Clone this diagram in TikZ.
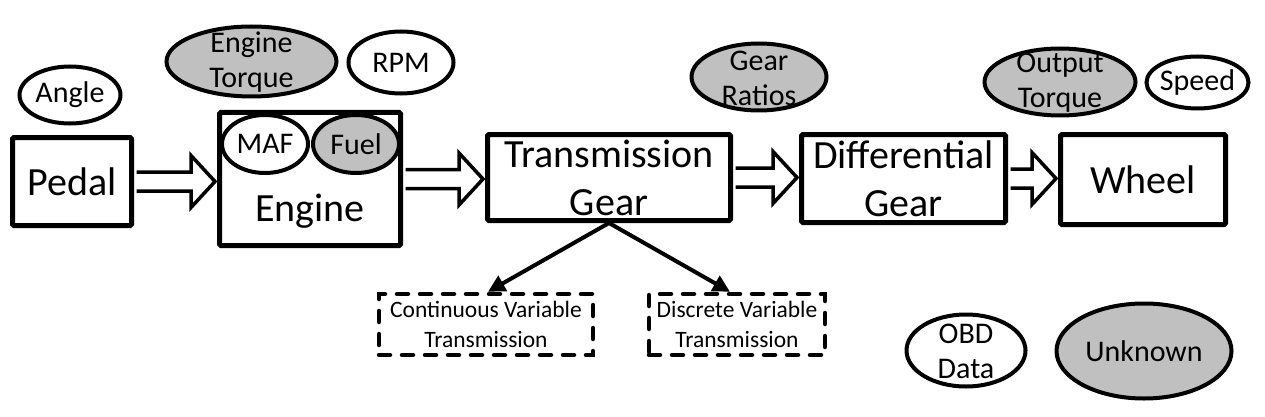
\documentclass[tikz,border=0pt]{standalone}
\usepackage{fontspec}
\setmainfont{Carlito}
\usetikzlibrary{shapes.geometric,arrows.meta,calc}
\definecolor{gfill}{RGB}{192,192,192}
\newcommand{\blockarrow}[2]{%
  \path[harr] let \p1=(#1.east), \p2=(#2.west) in
    (\x1+2.5pt,\y1+9.5pt) -- (\x2-26pt,\y1+9.5pt) -- (\x2-26pt,\y1+26pt) -- (\x2-2pt,\y1)
    -- (\x2-26pt,\y1-26pt) -- (\x2-26pt,\y1-9.5pt) -- (\x1+2.5pt,\y1-9.5pt);
}
\begin{document}
\begin{tikzpicture}[x=1pt,y=-1pt,
  blk/.style={draw,line width=5pt,rounded corners=1.5pt,inner sep=0pt,
    font=\fontsize{40}{48}\selectfont,align=center},
  oval/.style={draw,ellipse,line width=4pt,inner sep=0pt},
  gray/.style={fill=gfill},
  otext/.style={font=\fontsize{30}{35}\selectfont,align=center},
  otextb/.style={otext,yshift=-1pt},
  dbox/.style={draw,line width=4.5pt,dash pattern=on 11pt off 12pt,line cap=round,
    inner sep=0pt,font=\fontsize{23.5}{29.5}\selectfont,align=center},
  harr/.style={draw,line width=3.5pt,fill=white,line join=miter},
  tarr/.style={line width=4pt,-{Triangle[length=17pt,width=17pt]}}
]
\useasboundingbox (0,0) rectangle (1265,417);

% main blocks
\node[blk,minimum width=119pt,minimum height=88pt] (pedal) at (72,181.5) {Pedal};
\node[blk,minimum width=181pt,minimum height=133pt] (engine) at (310,179) {};
\node[font=\fontsize{40}{48}\selectfont,anchor=base,inner sep=0pt] (englbl) at (310,221) {Engine};
\node[blk,minimum width=243pt,minimum height=86pt] (trans) at (609,177.5) {Transmission\\Gear};
\node[blk,minimum width=204pt,minimum height=88pt] (diff) at (903.5,178.5) {Differential\\Gear};
\node[blk,minimum width=165pt,minimum height=90pt] (wheel) at (1143,179.5) {Wheel};

% ellipses inside engine
\node[oval,minimum width=86pt,minimum height=58pt,label={[otext,name=maflbl]center:MAF}] (maf) at (265,144) {};
\node[oval,gray,minimum width=86pt,minimum height=58pt,label={[otext,name=fuellbl]center:Fuel}] (fuel) at (356,144) {};

% attribute ellipses
\node[oval,minimum width=101pt,minimum height=57pt,label={[otext,name=anglelbl]center:Angle}] (angle) at (70,95) {};
\node[oval,gray,minimum width=170pt,minimum height=70pt,label={[otextb,name=etlbl]center:Engine\\Torque}] (etorque) at (251.5,61.5) {};
\node[oval,minimum width=105pt,minimum height=62pt,label={[otext,name=rpmlbl]center:RPM}] (rpm) at (401,62.5) {};
\node[oval,gray,minimum width=135pt,minimum height=67pt,label={[otextb,name=grlbl]center:Gear\\Ratios}] (ratios) at (759,77) {};
\node[oval,gray,minimum width=151pt,minimum height=67pt,label={[otextb,name=otlbl]center:Output\\Torque}] (otorque) at (1060,82) {};
\node[oval,minimum width=102pt,minimum height=52pt,label={[otext,name=speedlbl]center:Speed}] (speed) at (1197.5,82.5) {};
\node[oval,minimum width=119pt,minimum height=72pt,label={[otextb,name=obdlbl]center:OBD\\Data}] (obd) at (966,350.5) {};
\node[oval,gray,minimum width=175pt,minimum height=95pt,label={[otext,name=unklbl]center:Unknown}] (unknown) at (1144,351) {};

% dashed boxes
\node[dbox,minimum width=214pt,minimum height=61pt] (cvt) at (486,324.5) {Continuous Variable\\Transmission};
\node[dbox,minimum width=176pt,minimum height=61pt] (dvt) at (737,324.5) {Discrete Variable\\Transmission};

% block arrows
\blockarrow{pedal}{engine}
\blockarrow{engine}{trans}
\blockarrow{trans}{diff}
\blockarrow{diff}{wheel}

% branch arrows
\draw[tarr] (trans.south) -- ([xshift=2pt]cvt.north);
\draw[tarr] (trans.south) -- ([xshift=-7pt]dvt.north);
\end{tikzpicture}
\end{document}
